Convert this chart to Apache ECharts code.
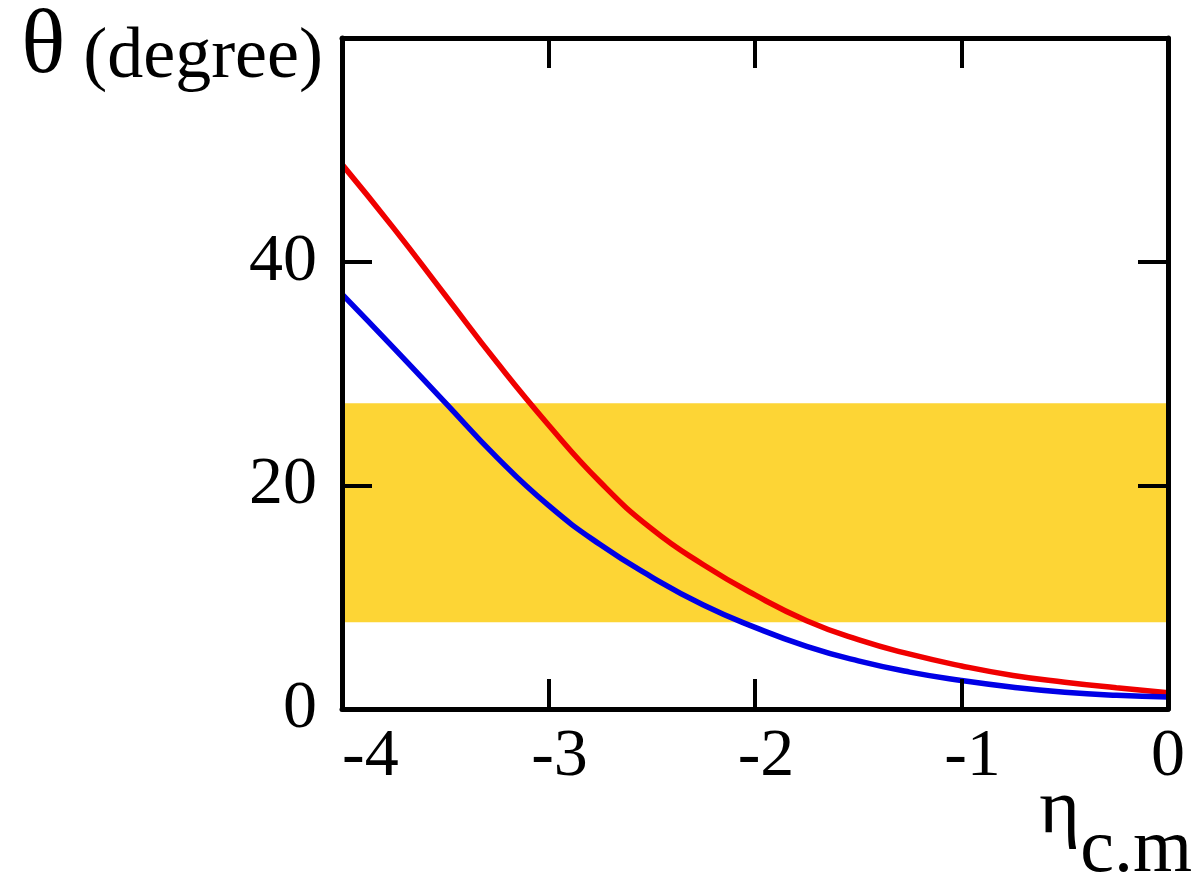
<!DOCTYPE html>
<html>
<head>
<meta charset="utf-8">
<script src="https://cdn.jsdelivr.net/npm/echarts@6/dist/echarts.min.js"></script>
<style>
  html, body { margin: 0; padding: 0; background: #fff; }
  #chart { width: 1197px; height: 881px; }
</style>
</head>
<body>
<div id="chart"></div>
<script>
// pseudorapidity in the centre-of-mass frame
const eta = [-4, -3.75, -3.5, -3.25, -3, -2.75, -2.5, -2.25, -2, -1.75, -1.5, -1.25, -1, -0.75, -0.5, -0.25, 0];
// polar angle (degrees) for the two configurations
const thetaRed  = [48.7, 43.0, 37.0, 31.0, 25.4, 20.3, 16.1, 12.9, 10.2, 7.9, 6.2, 4.9, 3.85, 3.0, 2.4, 1.9, 1.45];
const thetaBlue = [37.1, 32.3, 27.4, 22.5, 18.2, 14.7, 11.8, 9.3, 7.3, 5.6, 4.3, 3.3, 2.55, 1.95, 1.5, 1.22, 1.07];
// detector acceptance band (degrees)
const bandLow = 7.75;
const bandHigh = 27.35;
// axis ranges: [min, max, interval]
const xRange = [-4, 0, 1];
const yRange = [0, 60, 20];
// axis titles
const xTitle = ['η', 'c.m'];
const yTitle = ['θ', ' (degree)'];

const FONT = "'Liberation Serif', 'Times New Roman', serif";
const BLACK = '#000';

function pairs(xs, ys) { return xs.map((x, i) => [x, ys[i]]); }

const tickStyle = { show: true, inside: true, length: 30, lineStyle: { color: BLACK, width: 4 } };
const lineStyle = { show: true, onZero: false, lineStyle: { color: BLACK, width: 5 } };

const chart = echarts.init(document.getElementById('chart'), null, { renderer: 'canvas' });
chart.setOption({
  backgroundColor: '#fff',
  animation: false,
  grid: { left: 342, right: 29, top: 38, bottom: 172, containLabel: false, outerBoundsMode: 'none' },
  xAxis: [
    {
      type: 'value', position: 'bottom', z: 10,
      min: xRange[0], max: xRange[1], interval: xRange[2],
      axisLine: lineStyle, axisTick: tickStyle, splitLine: { show: false },
      axisLabel: {
        show: true, margin: 14, color: BLACK, fontFamily: FONT, fontSize: 68,
        alignMinLabel: 'left',
        // the first label sits flush with the frame; negative labels lean right so the digit sits on the tick
        formatter: v => (v === xRange[0] || v >= 0 ? '{m|' + v + '}' : '{p|' + v + '}'),
        rich: {
          m: { fontFamily: FONT, fontSize: 68, color: BLACK },
          p: { fontFamily: FONT, fontSize: 68, color: BLACK, padding: [0, 0, 0, 22] }
        }
      }
    },
    {
      type: 'value', position: 'top', z: 10,
      min: xRange[0], max: xRange[1], interval: xRange[2],
      axisLine: lineStyle, axisTick: tickStyle, axisLabel: { show: false }, splitLine: { show: false }
    }
  ],
  yAxis: [
    {
      type: 'value', position: 'left', z: 10,
      min: yRange[0], max: yRange[1], interval: yRange[2],
      axisLine: lineStyle, axisTick: tickStyle, splitLine: { show: false },
      axisLabel: {
        show: true, margin: 25, color: BLACK, fontFamily: FONT, fontSize: 68,
        showMaxLabel: false
      },
      name: '{t|' + yTitle[0] + '}{d|' + yTitle[1] + '}',
      nameLocation: 'end',
      nameGap: -56,
      nameTextStyle: {
        align: 'right', verticalAlign: 'bottom', padding: [0, 19, 0, 0],
        rich: {
          t: { fontFamily: FONT, fontSize: 92, color: BLACK, verticalAlign: 'bottom' },
          d: { fontFamily: FONT, fontSize: 72, color: BLACK, verticalAlign: 'bottom' }
        }
      }
    },
    {
      type: 'value', position: 'right', z: 10,
      min: yRange[0], max: yRange[1], interval: yRange[2],
      axisLine: lineStyle, axisTick: tickStyle, axisLabel: { show: false }, splitLine: { show: false }
    }
  ],
  graphic: [
    {
      // horizontal axis title with its subscript, placed under the right end of the axis
      type: 'text',
      right: 5,
      bottom: -8,
      z: 20,
      style: {
        text: '{e|' + xTitle[0] + '}{s|' + xTitle[1] + '}',
        rich: {
          e: { fontFamily: FONT, fontSize: 78, fill: BLACK, lineHeight: 78, padding: [0, 0, 38, 0], verticalAlign: 'bottom' },
          s: { fontFamily: FONT, fontSize: 76, fill: BLACK, lineHeight: 76, verticalAlign: 'bottom' }
        }
      }
    }
  ],
  series: [
    {
      type: 'line', name: 'band', data: [], xAxisIndex: 0, yAxisIndex: 0,
      markArea: {
        silent: true,
        itemStyle: { color: '#fdd535', opacity: 1 },
        data: [[{ yAxis: bandLow }, { yAxis: bandHigh }]]
      }
    },
    {
      type: 'line', name: 'red', smooth: true, showSymbol: false, symbol: 'none',
      data: pairs(eta, thetaRed),
      lineStyle: { color: '#f00000', width: 5.5 }, z: 3
    },
    {
      type: 'line', name: 'blue', smooth: true, showSymbol: false, symbol: 'none',
      data: pairs(eta, thetaBlue),
      lineStyle: { color: '#0000e6', width: 5.5 }, z: 3
    }
  ]
});
</script>
</body>
</html>
